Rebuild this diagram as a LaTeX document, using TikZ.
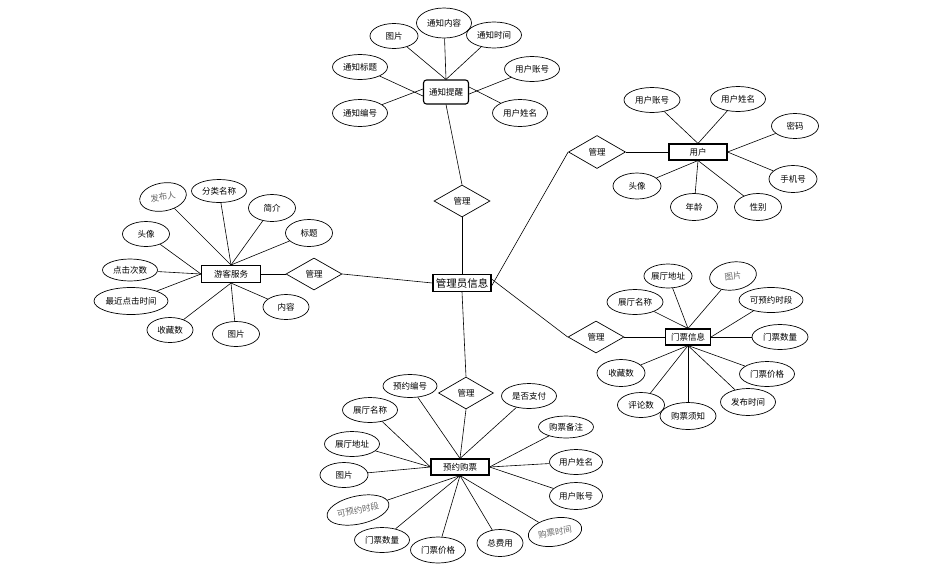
\documentclass[tikz,border=0pt]{standalone}
\usepackage{fontspec}
\newfontfamily\cjk{Noto Sans CJK SC}
\usetikzlibrary{shapes.geometric}
\tikzset{
  attr/.style n args={2}{ellipse, draw, line width=0.7pt, inner sep=0pt,
    minimum width=#1pt, minimum height=#2pt, font=\cjk\fontsize{8.5}{10}\selectfont},
  attrg/.style n args={3}{attr={#1}{#2}, rotate=#3, text=black!60},
  ent/.style n args={2}{rectangle, draw, line width=1.1pt, inner sep=0pt,
    minimum width=#1pt, minimum height=#2pt, font=\cjk\fontsize{8.5}{10}\selectfont},
  rel/.style n args={2}{diamond, draw, line width=0.7pt, inner sep=0pt,
    minimum width=#1pt, minimum height=#2pt, font=\cjk\fontsize{8.5}{10}\selectfont},
  lk/.style={line width=0.6pt}
}
\begin{document}
\begin{tikzpicture}[x=1pt,y=-1pt]
\useasboundingbox (0,0) rectangle (931,574);
% center
\node[ent={58}{17}, font=\cjk\fontsize{10.5}{12}\selectfont] (gl) at (462,283) {管理员信息};
\node[rel={56}{32}] (r1) at (462,201) {管理};
\node[rel={57}{33}] (r2) at (597,152) {管理};
\node[rel={56}{32}] (r3) at (314,274) {管理};
\node[rel={56}{32}] (r4) at (596,337) {管理};
\node[rel={55}{32}] (r5) at (466,393) {管理};
% entities
\node[ent={45}{24}, rounded corners=3pt] (tz) at (446,92) {通知提醒};
\node[ent={58}{16}] (yh) at (698,152) {用户};
\node[ent={59}{17}] (yk) at (231,274) {游客服务};
\node[ent={45}{16}] (mp) at (688,337) {门票信息};
\node[ent={58}{16}] (yy) at (460,467) {预约购票};
% relation links
\draw[lk] (gl.north) -- (r1.south);
\draw[lk] (r1.north) -- (tz.south);
\draw[lk] ([yshift=-3pt]gl.east) -- (r2.west);
\draw[lk] (r2.east) -- (yh.west);
\draw[lk] (gl.west) -- (r3.east);
\draw[lk] (r3.west) -- (yk.east);
\draw[lk] ([yshift=4pt]gl.east) -- (r4.west);
\draw[lk] (r4.east) -- (mp.west);
\draw[lk] (gl.south) -- (r5.north);
\draw[lk] (r5.south) -- (yy.north);
% 通知提醒 attributes
\node[attr={48}{25}] (t1) at (394,36) {图片};
\node[attr={55}{30}] (t2) at (444,23) {通知内容};
\node[attr={55}{26}] (t3) at (494,35) {通知时间};
\node[attr={55}{25}] (t4) at (360,67) {通知标题};
\node[attr={55}{25}] (t5) at (532,69) {用户账号};
\node[attr={55}{27}] (t6) at (360,113) {通知编号};
\node[attr={55}{27}] (t7) at (520,113) {用户姓名};
\foreach \a in {t1,t2,t3} \draw[lk] (\a) -- (tz.north);
\draw[lk] (t4) -- ([yshift=-4pt]tz.west);
\draw[lk] (t6) -- ([yshift=3pt]tz.west);
\draw[lk] (t5) -- ([yshift=-2pt]tz.east);
\draw[lk] (t7) -- ([yshift=5pt]tz.east);
% 用户 attributes
\node[attr={56}{25}] (u1) at (652,100) {用户账号};
\node[attr={55}{25}] (u2) at (738,99) {用户姓名};
\node[attr={47}{25}] (u3) at (795,126) {密码};
\node[attr={48}{27}] (u4) at (793,179) {手机号};
\node[attr={47}{27}] (u5) at (758,207) {性别};
\node[attr={47}{27}] (u6) at (694,207) {年龄};
\node[attr={48}{26}] (u7) at (637,186) {头像};
\draw[lk] (u1) -- (yh.north);
\draw[lk] (u2) -- (yh.north);
\draw[lk] (u3) -- (yh.east);
\draw[lk] (u4) -- (yh.east);
\foreach \a in {u5,u6,u7} \draw[lk] (\a) -- (yh.south);
% 游客服务 attributes
\node[attrg={47}{28}{10}] (k1) at (163,197) {发布人};
\node[attr={55}{23}] (k2) at (219,191) {分类名称};
\node[attr={47}{27}] (k3) at (272,208) {简介};
\node[attr={47}{27}] (k4) at (309,233) {标题};
\node[attr={47}{25}] (k5) at (146,234) {头像};
\node[attr={55}{22}] (k6) at (130,270) {点击次数};
\node[attr={74}{27}] (k7) at (131,301) {最近点击时间};
\node[attr={46}{25}] (k8) at (170,330) {收藏数};
\node[attr={47}{25}] (k9) at (236,334) {图片};
\node[attr={46}{25}] (k10) at (286,307) {内容};
\foreach \a in {k1,k2,k3,k4} \draw[lk] (\a) -- (yk.north);
\foreach \a in {k5,k6,k7} \draw[lk] (\a) -- (yk.west);
\foreach \a in {k8,k9,k10} \draw[lk] (\a) -- (yk.south);
% 门票信息 attributes
\node[attr={47}{24}] (m1) at (668,276) {展厅地址};
\node[attrg={47}{28}{8}] (m2) at (733,276) {图片};
\node[attr={56}{25}] (m3) at (635,302) {展厅名称};
\node[attr={64}{25}] (m4) at (771,300) {可预约时段};
\node[attr={56}{25}] (m5) at (780,337) {门票数量};
\node[attr={55}{25}] (m6) at (767,374) {门票价格};
\node[attr={55}{27}] (m7) at (748,402) {发布时间};
\node[attr={56}{27}] (m8) at (688,416) {购票须知};
\node[attr={47}{25}] (m9) at (641,405) {评论数};
\node[attr={48}{27}] (m10) at (621,373) {收藏数};
\foreach \a in {m1,m2,m3} \draw[lk] (\a) -- (mp.north);
\foreach \a in {m4,m5} \draw[lk] (\a) -- (mp.east);
\foreach \a in {m6,m7,m8,m9,m10} \draw[lk] (\a) -- (mp.south);
% 预约购票 attributes
\node[attr={54}{23}] (y1) at (410,386) {预约编号};
\node[attr={55}{25}] (y2) at (529,396) {是否支付};
\node[attr={55}{25}] (y3) at (370,410) {展厅名称};
\node[attr={55}{22}] (y4) at (566,427) {购票备注};
\node[attr={55}{25}] (y5) at (352,444) {展厅地址};
\node[attr={53}{25}] (y6) at (576,462) {用户姓名};
\node[attr={48}{25}] (y7) at (344,475) {图片};
\node[attr={53}{27}] (y8) at (576,496) {用户账号};
\node[attrg={63}{28}{12}] (y9) at (358,510) {可预约时段};
\node[attrg={54}{28}{10}] (y10) at (555,532) {购票时间};
\node[attr={55}{25}] (y11) at (382,540) {门票数量};
\node[attr={55}{26}] (y12) at (438,550) {门票价格};
\node[attr={46}{27}] (y13) at (500,543) {总费用};
\foreach \a in {y1,y2} \draw[lk] (\a) -- (yy.north);
\foreach \a in {y3,y5,y7} \draw[lk] (\a) -- (yy.west);
\foreach \a in {y4,y6,y8} \draw[lk] (\a) -- (yy.east);
\foreach \a in {y9,y10,y11,y12,y13} \draw[lk] (\a) -- (yy.south);
\end{tikzpicture}
\end{document}
